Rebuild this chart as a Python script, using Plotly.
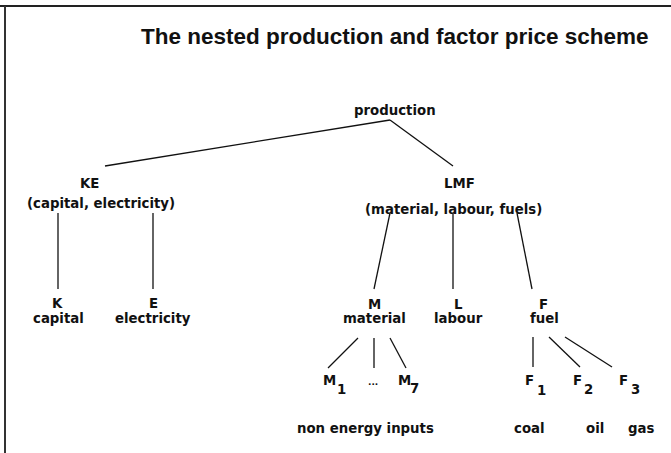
import plotly.graph_objects as go

# ---------------- data ----------------
TITLE = "The nested production and factor price scheme"

node_ids = ["production", "KE", "LMF", "K", "E", "M", "L", "F",
            "M1", "Mdots", "M7", "F1", "F2", "F3"]
node_symbols = ["production", "KE", "LMF", "K", "E", "M", "L", "F",
                "M", "...", "M", "F", "F", "F"]
node_subscripts = ["", "", "", "", "", "", "", "",
                   "1", "", "7", "1", "2", "3"]
node_descriptions = ["", "(capital, electricity)", "(material, labour, fuels)",
                     "capital", "electricity", "material", "labour", "fuel",
                     "", "", "", "", "", ""]
group_notes = ["non energy inputs", "coal", "oil", "gas"]

edge_parents = ["production", "production", "KE", "KE", "LMF", "LMF", "LMF",
                "M", "M", "M", "F", "F", "F"]
edge_children = ["KE", "LMF", "K", "E", "M", "L", "F",
                 "M1", "Mdots", "M7", "F1", "F2", "F3"]

# ---------------- layout (pixel positions, y downwards) ----------------
W, H = 671, 453
label_pos = {
    "production": (395, 110), "KE": (89, 183), "LMF": (459, 183),
    "K": (57, 303), "E": (153, 303), "M": (374, 304), "L": (458, 304), "F": (543, 304),
    "M1": (329, 380), "Mdots": (373, 382), "M7": (404, 380),
    "F1": (529, 380), "F2": (577, 380), "F3": (623, 380),
}
desc_pos = {
    "KE": (101, 203), "LMF": (453, 209),
    "K": (58, 318), "E": (153, 318), "M": (374, 318), "L": (458, 318), "F": (544, 318),
}
sub_pos = {
    "M1": (341, 389), "M7": (414, 388),
    "F1": (541, 390), "F2": (588, 389), "F3": (635, 389),
}
note_pos = [(365, 428), (529, 428), (595, 428), (641, 428)]

edge_start = {
    "KE": (390, 120), "LMF": (390, 120),
    "K": (58, 213), "E": (153, 213),
    "M": (390, 213), "L": (453, 213), "F": (517, 213),
    "M1": (358, 338), "Mdots": (374, 338), "M7": (390, 338),
    "F1": (533, 337), "F2": (549, 337), "F3": (565, 337),
}
edge_end = {
    "KE": (105, 166), "LMF": (453, 166),
    "K": (58, 289), "E": (153, 289),
    "M": (374, 289), "L": (453, 289), "F": (532, 289),
    "M1": (328, 368), "Mdots": (374, 368), "M7": (406, 368),
    "F1": (533, 367), "F2": (580, 367), "F3": (612, 367),
}

LABEL_FONT = dict(family="DejaVu Sans", size=13.3, color="#111")
TITLE_FONT = dict(family="Liberation Sans, Arial", size=22.5, color="#111")

fig = go.Figure()

# edges
for p, c in zip(edge_parents, edge_children):
    x0, y0 = edge_start[c]
    x1, y1 = edge_end[c]
    fig.add_trace(go.Scatter(x=[x0, x1], y=[y0, y1], mode="lines",
                             line=dict(color="#111", width=1.3),
                             hoverinfo="skip", showlegend=False))

annotations = []

def add_text(x, y, text, font, xanchor="center"):
    annotations.append(dict(x=x, y=y, xref="x", yref="y", text=text,
                            showarrow=False, xanchor=xanchor, yanchor="middle",
                            font=font))

for nid, sym, sub, desc in zip(node_ids, node_symbols, node_subscripts, node_descriptions):
    x, y = label_pos[nid]
    f = dict(LABEL_FONT)
    if sym == "...":
        f["size"] = 9
    add_text(x, y, "<b>%s</b>" % sym, f)
    if sub:
        sx, sy = sub_pos[nid]
        add_text(sx, sy, "<b>%s</b>" % sub, LABEL_FONT)
    if desc:
        dx, dy = desc_pos[nid]
        add_text(dx, dy, "<b>%s</b>" % desc, LABEL_FONT)

for note, (x, y) in zip(group_notes, note_pos):
    add_text(x, y, "<b>%s</b>" % note, LABEL_FONT)

add_text(651, 36, "<b>%s</b>" % TITLE, TITLE_FONT, xanchor="right")

# frame lines
shapes = [
    dict(type="line", xref="x", yref="y", x0=0, y0=6, x1=W, y1=6,
         line=dict(color="#222", width=2)),
    dict(type="line", xref="x", yref="y", x0=5, y0=6, x1=5, y1=H,
         line=dict(color="#333", width=2)),
]

fig.update_layout(
    width=W, height=H,
    margin=dict(l=0, r=0, t=0, b=0),
    paper_bgcolor="white", plot_bgcolor="white",
    xaxis=dict(range=[0, W], visible=False, fixedrange=True),
    yaxis=dict(range=[H, 0], visible=False, fixedrange=True),
    annotations=annotations, shapes=shapes,
    showlegend=False,
)

fig.write_html("out.html", config={"displayModeBar": False},
               post_script="document.body.style.margin='0';document.body.style.overflow='hidden';")
